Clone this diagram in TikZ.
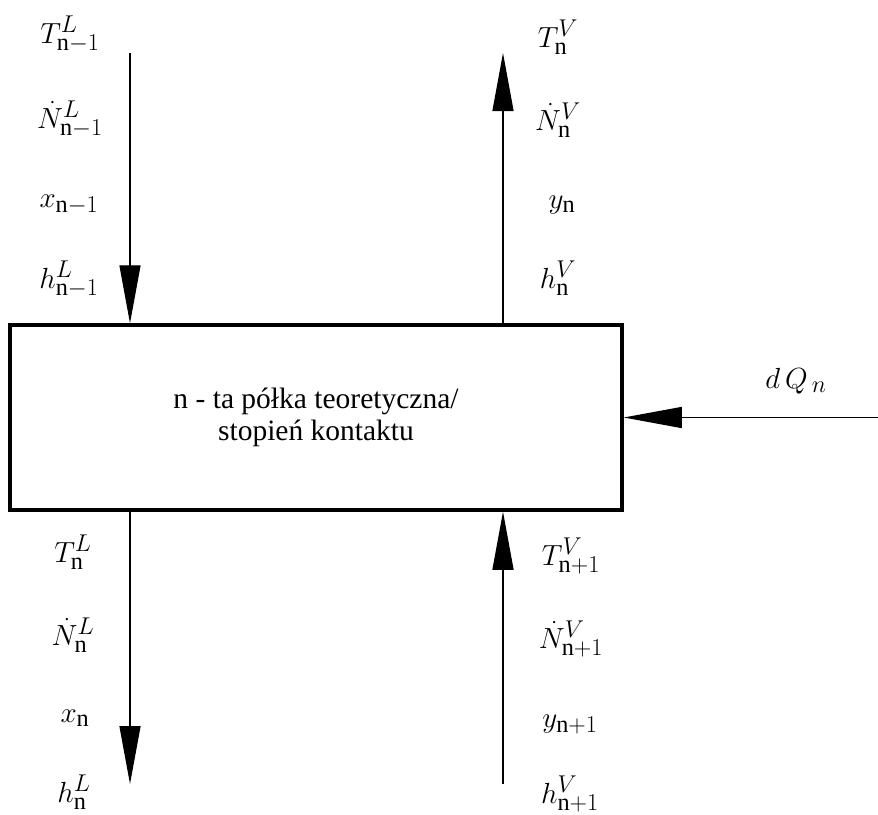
\documentclass[tikz,border=0pt]{standalone}
\usepackage{fontspec}
\setmainfont{Liberation Serif}
\usetikzlibrary{arrows.meta}
\newcommand{\lblmath}[1]{\scalebox{1.17}{$#1$}}
\begin{document}
\begin{tikzpicture}[x=1pt,y=-1pt,
  boxst/.style={draw, line width=3.5pt, rectangle, inner sep=0pt,
    minimum width=612pt, minimum height=185pt, align=center,
    font=\fontsize{29.5}{34}\selectfont},
  flow/.style={line width=1.3pt, -{Triangle[length=58pt,width=21pt]}},
  lab/.style={anchor=base, inner sep=0pt, font=\fontsize{24.88}{30}\selectfont}]
\useasboundingbox (0,0) rectangle (878,814);
\fill[white] (0,0) rectangle (878,814);
% main box
\node[boxst] (box) at (316,417.5) {n - ta półka teoretyczna/\\[-2pt]stopień kontaktu};
% free ends
\coordinate (ltop) at (130,53);
\coordinate (rtop) at (503,53);
\coordinate (lbot) at (130,784);
\coordinate (rbot) at (503,784);
\coordinate (rin) at (878,417.5);
% connectors
\draw[flow] (ltop) -- (ltop |- box.north);
\draw[flow] (rtop |- box.north) -- (rtop);
\draw[flow] (lbot |- box.south) -- (lbot);
\draw[flow] (rbot) -- (rbot |- box.south);
\draw[flow] (rin) -- (box.east);
% labels top left
\node[lab] (tl1) at (70,43) {\lblmath{T^{L}_{\mathrm{n}-1}}};
\node[lab] (tl2) at (70,128) {\lblmath{\dot{N}^{L}_{\mathrm{n}-1}}};
\node[lab] (tl3) at (69,207) {\lblmath{x_{\mathrm{n}-1}}};
\node[lab] (tl4) at (69,288) {\lblmath{h^{L}_{\mathrm{n}-1}}};
% labels top right
\node[lab] (tr1) at (558,47) {\lblmath{T^{V}_{\mathrm{n}}}};
\node[lab] (tr2) at (558,130) {\lblmath{\dot{N}^{V}_{\mathrm{n}}}};
\node[lab] (tr3) at (562,208) {\lblmath{y_{\mathrm{n}}}};
\node[lab] (tr4) at (558,288) {\lblmath{h^{V}_{\mathrm{n}}}};
% labels bottom left
\node[lab] (bl1) at (73,562) {\lblmath{T^{L}_{\mathrm{n}}}};
\node[lab] (bl2) at (73,645) {\lblmath{\dot{N}^{L}_{\mathrm{n}}}};
\node[lab] (bl3) at (75,722) {\lblmath{x_{\mathrm{n}}}};
\node[lab] (bl4) at (74,802) {\lblmath{h^{L}_{\mathrm{n}}}};
% labels bottom right
\node[lab] (br1) at (571,565) {\lblmath{T^{V}_{\mathrm{n}+1}}};
\node[lab] (br2) at (571,648) {\lblmath{\dot{N}^{V}_{\mathrm{n}+1}}};
\node[lab] (br3) at (570,727) {\lblmath{y_{\mathrm{n}+1}}};
\node[lab] (br4) at (570,803) {\lblmath{h^{V}_{\mathrm{n}+1}}};
% heat label
\node[lab] (dq) at (796,388) {\lblmath{d\,Q_{\,n}}};
\end{tikzpicture}
\end{document}
